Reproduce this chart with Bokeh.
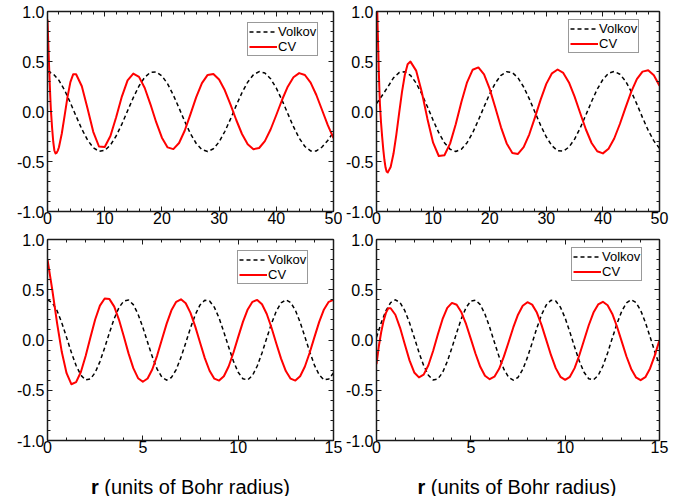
from bokeh.plotting import figure
from bokeh.models import (LinearAxis, FixedTicker, NumeralTickFormatter, Legend,
                          LegendItem, Range1d)
from bokeh.core.properties import value
from bokeh.layouts import column, row
from bokeh.embed import file_html
from bokeh.resources import INLINE

FONT = "Liberation Sans"

# ---------------- data ----------------
# sample positions
x_top = list(range(51))
x_bot = [i * 0.25 for i in range(61)]

# top-left panel
tl_volkov = [0.400, 0.377, 0.312, 0.212, 0.087, -0.047, -0.176, -0.285, -0.362, -0.398,
             -0.389, -0.336, -0.245, -0.126, 0.007, 0.139, 0.255, 0.343, 0.392, 0.396,
             0.356, 0.276, 0.164, 0.034, -0.100, -0.223, -0.320, -0.382, -0.400, -0.373,
             -0.304, -0.200, -0.074, 0.061, 0.188, 0.294, 0.368, 0.399, 0.385, 0.328,
             0.234, 0.113, -0.020, -0.152, -0.266, -0.350, -0.394, -0.394, -0.355, -0.290,
             -0.205]
tl_cv_x = [0, 0.1, 0.2, 0.3, 0.4, 0.5, 0.6, 0.8, 1.0, 1.2, 1.4, 1.6, 1.8, 2.0, 2.5,
           3.0, 3.5, 4.0, 4.5] + list(range(5, 51))
tl_cv = [0.92, 0.75, 0.58, 0.42, 0.27, 0.13, 0.01, -0.16, -0.30, -0.39, -0.42, -0.413,
         -0.391, -0.357, -0.220, -0.039, 0.146, 0.294, 0.373,
         0.373, 0.252, 0.030, -0.203, -0.350, -0.355, -0.245, -0.058, 0.149, 0.311,
         0.379, 0.346, 0.235, 0.072, -0.107, -0.262, -0.359, -0.376, -0.315, -0.190,
         -0.026, 0.144, 0.284, 0.366, 0.375, 0.320, 0.212, 0.069, -0.085, -0.225,
         -0.328, -0.377, -0.365, -0.296, -0.180, -0.035, 0.115, 0.248, 0.342, 0.384,
         0.365, 0.288, 0.165, 0.015, -0.137, -0.266]

# top-right panel
tr_volkov = [0.08, 0.16, 0.245, 0.336, 0.389, 0.398, 0.362, 0.285, 0.176, 0.047,
             -0.087, -0.212, -0.312, -0.377, -0.400, -0.377, -0.312, -0.212, -0.087, 0.047,
             0.176, 0.285, 0.362, 0.398, 0.389, 0.336, 0.245, 0.126, -0.007, -0.139,
             -0.255, -0.343, -0.392, -0.396, -0.356, -0.276, -0.164, -0.034, 0.100, 0.223,
             0.320, 0.382, 0.400, 0.373, 0.304, 0.200, 0.074, -0.061, -0.188, -0.294,
             -0.368]
tr_cv_x = [0, 0.2, 0.4, 0.5, 0.6, 0.8, 1.0, 1.2, 1.4, 1.6, 1.8, 2.0, 2.5, 3.0, 3.5,
           4.0, 4.5, 5.0, 5.5] + list(range(6, 51))
tr_cv = [1.35, 0.85, 0.42, 0.24, 0.08, -0.11, -0.254, -0.381, -0.485, -0.561, -0.602,
         -0.609, -0.555, -0.423, -0.234, -0.017, 0.193, 0.365, 0.473,
         0.499, 0.409, 0.195, -0.074, -0.312, -0.445, -0.437, -0.321, -0.128, 0.095,
         0.292, 0.418, 0.441, 0.371, 0.226, 0.037, -0.158, -0.319, -0.414, -0.424,
         -0.357, -0.228, -0.059, 0.119, 0.276, 0.382, 0.420, 0.386, 0.291, 0.149,
         -0.017, -0.180, -0.315, -0.398, -0.419, -0.373, -0.270, -0.125, 0.039, 0.197,
         0.323, 0.399, 0.412, 0.362, 0.257]

# bottom-left panel
bl_volkov = [0.400, 0.372, 0.292, 0.171, 0.026, -0.123, -0.254, -0.350, -0.397, -0.388,
             -0.324, -0.215, -0.076, 0.073, 0.213, 0.323, 0.387, 0.397, 0.352, 0.257,
             0.126, -0.023, -0.168, -0.290, -0.371, -0.400, -0.373, -0.294, -0.173, -0.029,
             0.120, 0.252, 0.349, 0.396, 0.388, 0.326, 0.218, 0.079, -0.070, -0.210,
             -0.321, -0.386, -0.397, -0.353, -0.259, -0.129, 0.020, 0.165, 0.288, 0.370,
             0.400, 0.374, 0.296, 0.176, 0.032, -0.117, -0.250, -0.347, -0.396, -0.389,
             -0.328]
bl_cv = [0.80, 0.50, 0.17, -0.12, -0.33, -0.44, -0.419, -0.318, -0.160, 0.025,
         0.204, 0.342, 0.413, 0.407, 0.332, 0.201, 0.037, -0.133, -0.280, -0.380,
         -0.415, -0.383, -0.291, -0.155, 0.005, 0.163, 0.295, 0.380, 0.405, 0.366,
         0.270, 0.133, -0.025, -0.180, -0.306, -0.385, -0.404, -0.361, -0.264, -0.127,
         0.029, 0.180, 0.304, 0.380, 0.399, 0.356, 0.259, 0.122, -0.034, -0.185,
         -0.309, -0.385, -0.404, -0.361, -0.264, -0.127, 0.029, 0.180, 0.304, 0.380,
         0.399]

# bottom-right panel
br_volkov = [0.026, 0.171, 0.292, 0.372, 0.400, 0.372, 0.292, 0.171, 0.026, -0.123,
             -0.254, -0.350, -0.397, -0.388, -0.324, -0.215, -0.076, 0.073, 0.213, 0.323,
             0.387, 0.397, 0.352, 0.257, 0.126, -0.023, -0.168, -0.290, -0.371, -0.400,
             -0.373, -0.294, -0.173, -0.029, 0.120, 0.252, 0.349, 0.396, 0.388, 0.326,
             0.218, 0.079, -0.070, -0.210, -0.321, -0.386, -0.397, -0.353, -0.259, -0.129,
             0.020, 0.165, 0.288, 0.370, 0.400, 0.374, 0.296, 0.176, 0.032, -0.117,
             -0.250]
br_cv_x = [0, 0.125, 0.25, 0.375, 0.5, 0.625] + [0.75 + i * 0.25 for i in range(58)]
br_cv = [-0.24, -0.06, 0.08, 0.19, 0.27, 0.315,
         0.316, 0.251, 0.121, -0.043, -0.203, -0.323, -0.372, -0.345, -0.251, -0.109,
         0.054, 0.207, 0.319, 0.369, 0.351, 0.276, 0.157, 0.011, -0.137, -0.267,
         -0.355, -0.390, -0.365, -0.287, -0.166, -0.022, 0.125, 0.252, 0.340, 0.376,
         0.352, 0.273, 0.148, -0.001, -0.151, -0.280, -0.366, -0.396, -0.366, -0.280,
         -0.152, -0.002, 0.147, 0.273, 0.354, 0.380, 0.346, 0.259, 0.132, -0.016,
         -0.164, -0.288, -0.371, -0.400, -0.370, -0.283, -0.153, 0.0]

# ticks
y_major = [-1.0, -0.5, 0.0, 0.5, 1.0]
y_minor = [round(-1 + 0.1 * i, 2) for i in range(21)]
x_top_major = [0, 10, 20, 30, 40, 50]
x_top_minor = list(range(0, 51, 2))
x_bot_major = [0, 5, 10, 15]
x_bot_minor = list(range(0, 16))

series_labels = ["Volkov", "CV"]
xlabel_bold = "r"
xlabel_rest = "(units of Bohr radius)"

TICK_FONT = "16px"


def style_axis(ax, ticker, show_labels, standoff):
    ax.ticker = ticker
    ax.axis_line_color = "#1a1a1a"
    ax.axis_line_width = 1.5
    ax.major_tick_in = 5
    ax.major_tick_out = 0
    ax.minor_tick_in = 3
    ax.minor_tick_out = 0
    ax.major_tick_line_color = "#1a1a1a"
    ax.minor_tick_line_color = "#1a1a1a"
    ax.major_tick_line_width = 1
    ax.minor_tick_line_width = 1
    ax.major_label_text_font = FONT
    ax.major_label_text_color = "black"
    if show_labels:
        ax.major_label_text_font_size = TICK_FONT
        ax.major_label_standoff = standoff
    else:
        ax.major_label_overrides = {t: "" for t in ticker.ticks}
        ax.major_label_text_font_size = "1px"
        ax.major_label_standoff = 0


def panel(x_end, xmaj, xmin, vx, vy, cx, cy, w, h, bl, br, bt, bb, leg_xy):
    p = figure(width=w, height=h, x_range=Range1d(0, x_end), y_range=Range1d(-1, 1),
               output_backend="svg", toolbar_location=None,
               min_border_left=bl, min_border_right=br,
               min_border_top=bt, min_border_bottom=bb,
               outline_line_color=None, background_fill_color="white",
               border_fill_color="white")
    p.xgrid.visible = False
    p.ygrid.visible = False
    xt = FixedTicker(ticks=xmaj, minor_ticks=xmin)
    yt = FixedTicker(ticks=y_major, minor_ticks=y_minor)
    style_axis(p.xaxis[0], xt, True, 0)
    style_axis(p.yaxis[0], yt, True, 3)
    p.yaxis[0].formatter = NumeralTickFormatter(format="0.0")
    top = LinearAxis()
    style_axis(top, FixedTicker(ticks=xmaj, minor_ticks=xmin), False, 0)
    p.add_layout(top, "above")
    right = LinearAxis()
    style_axis(right, FixedTicker(ticks=y_major, minor_ticks=y_minor), False, 0)
    p.add_layout(right, "right")

    rv = p.line(vx, vy, line_color="black", line_width=1.5, line_dash="4 3",
                line_join="round")
    rc = p.line(cx, cy, line_color="#ff0000", line_width=2, line_join="round")

    leg = Legend(items=[LegendItem(label=series_labels[0], renderers=[rv]),
                        LegendItem(label=series_labels[1], renderers=[rc])],
                 location=leg_xy, margin=0, padding=1, spacing=0,
                 glyph_width=28, glyph_height=13, label_height=13, label_standoff=1,
                 label_text_font=FONT, label_text_font_size="13px",
                 label_text_color="black",
                 border_line_color="#333333", border_line_width=1,
                 background_fill_color="white", background_fill_alpha=1.0)
    p.add_layout(leg)
    return p


def xlabel_strip(w, frame_left, frame_w, h, baseline):
    s = figure(width=w, height=h, x_range=Range1d(0, w), y_range=Range1d(0, h),
               output_backend="svg", toolbar_location=None,
               min_border_left=0, min_border_right=0, min_border_top=0,
               min_border_bottom=0, x_axis_location=None, y_axis_location=None,
               outline_line_color=None, background_fill_color="white",
               border_fill_color="white")
    s.xgrid.visible = False
    s.ygrid.visible = False
    cx = frame_left + frame_w / 2
    s.text(x=[cx - 99.5], y=[baseline], text=[xlabel_bold], text_font=value(FONT),
           text_font_size="20px", text_font_style="bold", text_align="left",
           text_baseline="alphabetic", text_color="black")
    s.text(x=[cx - 86.2], y=[baseline], text=[xlabel_rest], text_font=value(FONT),
           text_font_size="20px", text_align="left", text_baseline="alphabetic",
           text_color="black")
    return s


W_L, W_R = 342, 337
# top row: frame y 11..211 ; bottom row: frame y 239..440
tl = panel(50, x_top_major, x_top_minor, x_top, tl_volkov, tl_cv_x, tl_cv,
           W_L, 229, 47, 9, 11, 18, (200, 155))
tr = panel(50, x_top_major, x_top_minor, x_top, tr_volkov, tr_cv_x, tr_cv,
           W_R, 229, 32, 20, 11, 18, (192, 158))
bl = panel(15, x_bot_major, x_bot_minor, x_bot, bl_volkov, x_bot, bl_cv,
           W_L, 231, 47, 9, 10, 20, (190, 156))
br = panel(15, x_bot_major, x_bot_minor, x_bot, br_volkov, br_cv_x, br_cv,
           W_R, 231, 32, 20, 10, 20, (195, 159))
sl = xlabel_strip(W_L, 47, 286, 36, 10)
sr = xlabel_strip(W_R, 32, 285, 36, 10)

layout = column(row(tl, tr), row(bl, br), row(sl, sr))

open("out.html", "w").write(file_html(layout, INLINE))
